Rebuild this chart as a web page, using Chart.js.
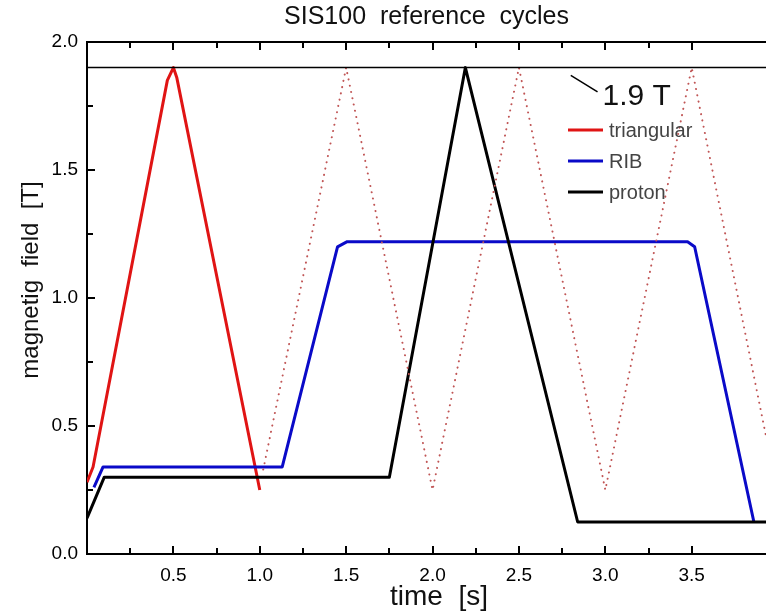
<!DOCTYPE html>
<html>
<head>
<meta charset="utf-8">
<script src="https://cdn.jsdelivr.net/npm/chart.js@4/dist/chart.umd.min.js"></script>
<style>
  html, body { margin: 0; padding: 0; background: #fff; }
</style>
</head>
<body>
<canvas id="chart" width="766" height="611"></canvas>
<script>
// triangular cycle (solid part, first period)
const triTime  = [0, 0.035, 0.465, 0.5, 0.52, 1.0];
const triField = [0.28, 0.34, 1.85, 1.9, 1.86, 0.25];

// triangular cycle continued (dotted)
const triRepTime  = [1.02, 1.5, 2.0, 2.5, 3.0, 3.5, 3.93];
const triRepField = [0.33, 1.9, 0.25, 1.9, 0.25, 1.9, 0.46];

// RIB cycle
const ribTime  = [0.04, 0.093, 1.13, 1.45, 1.506, 3.476, 3.517, 3.86];
const ribField = [0.26, 0.34, 0.34, 1.2, 1.22, 1.22, 1.2, 0.125];

// proton cycle
const protonTime  = [0, 0.1, 1.75, 2.19, 2.84, 3.93];
const protonField = [0.14, 0.30, 0.30, 1.9, 0.125, 0.125];

// 1.9 T limit
const limitTime  = [0, 3.93];
const limitField = [1.9, 1.9];

const legendOrder = ['triangular', 'RIB', 'proton'];

const FONT = "'Liberation Sans', Arial, sans-serif";
const MAX_T = 3.93;

const pts = (xs, ys) => xs.map((x, i) => ({x, y: ys[i]}));

function isQuarter(v) {
    return Math.abs(v / 0.25 - Math.round(v / 0.25)) < 1e-6;
}

function isHalf(v) {
    return Math.abs(v / 0.5 - Math.round(v / 0.5)) < 1e-6;
}

// frame on top + inward tick marks on left, bottom and top
const frameTicks = {
    id: 'frameTicks',
    afterDraw(chart) {
        const {ctx, chartArea: a, scales: {x, y}} = chart;
        ctx.save();
        ctx.strokeStyle = '#000';
        ctx.lineWidth = 2;
        ctx.beginPath();
        ctx.moveTo(a.left, a.top);
        ctx.lineTo(a.right, a.top);
        x.ticks.forEach((t) => {
            if (t.value <= 0 || !isQuarter(t.value)) return;
            const px = Math.round(x.getPixelForValue(t.value));
            const len = isHalf(t.value) ? 8 : 6;
            ctx.moveTo(px, a.bottom);
            ctx.lineTo(px, a.bottom - len);
            ctx.moveTo(px, a.top);
            ctx.lineTo(px, a.top + len);
        });
        y.ticks.forEach((t) => {
            if (t.value <= 0 || t.value >= 2 || !isQuarter(t.value)) return;
            const py = Math.round(y.getPixelForValue(t.value));
            const len = isHalf(t.value) ? 8 : 6;
            ctx.moveTo(a.left, py);
            ctx.lineTo(a.left + len, py);
        });
        ctx.stroke();
        ctx.restore();
    },
};

// axis titles, legend and the "1.9 T" note
const notes = {
    id: 'notes',
    afterDraw(chart) {
        const {ctx, scales: {x, y}} = chart;
        ctx.save();
        ctx.fillStyle = '#111';
        ctx.textBaseline = 'middle';
        ctx.textAlign = 'center';

        ctx.font = `28px ${FONT}`;
        ctx.fillText('time  [s]', 439, 597);

        ctx.save();
        ctx.translate(31, 280);
        ctx.rotate(-Math.PI / 2);
        ctx.font = `24px ${FONT}`;
        ctx.fillText('magnetig  field  [T]', 0, 0);
        ctx.restore();

        // 1.9 T pointer
        const x0 = x.getPixelForValue(2.8), y0 = y.getPixelForValue(1.87);
        const x1 = x.getPixelForValue(2.955), y1 = y.getPixelForValue(1.805);
        ctx.strokeStyle = '#000';
        ctx.lineWidth = 1.5;
        ctx.beginPath();
        ctx.moveTo(x0, y0);
        ctx.lineTo(x1, y1);
        ctx.stroke();
        ctx.textAlign = 'left';
        ctx.font = `30px ${FONT}`;
        ctx.fillText('1.9 T', x1 + 5, y1 + 5);

        // legend
        ctx.font = `20px ${FONT}`;
        legendOrder.forEach((name, i) => {
            const d = chart.data.datasets.find((ds) => ds.label === name);
            const ly = 130 + i * 31;
            ctx.strokeStyle = d.borderColor;
            ctx.lineWidth = 3;
            ctx.beginPath();
            ctx.moveTo(568, ly);
            ctx.lineTo(603, ly);
            ctx.stroke();
            ctx.fillStyle = '#444';
            ctx.fillText(d.label, 609, ly + 1);
        });
        ctx.restore();
    },
};

const lineDefaults = {
    showLine: true,
    pointRadius: 0,
    fill: false,
    tension: 0,
    borderJoinStyle: 'round',
};

new Chart(document.getElementById('chart'), {
    type: 'scatter',
    data: {
        datasets: [
            {...lineDefaults, label: '1.9 T', data: pts(limitTime, limitField),
                borderColor: '#000', borderWidth: 1.5},
            {...lineDefaults, label: 'triangular (repeat)', data: pts(triRepTime, triRepField),
                borderColor: 'rgb(192,85,85)', borderWidth: 2, borderDash: [0.1, 6.3], borderCapStyle: 'round'},
            {...lineDefaults, label: 'proton', data: pts(protonTime, protonField),
                borderColor: '#000', borderWidth: 3},
            {...lineDefaults, label: 'RIB', data: pts(ribTime, ribField),
                borderColor: '#0a0ac8', borderWidth: 3},
            {...lineDefaults, label: 'triangular', data: pts(triTime, triField),
                borderColor: '#e01414', borderWidth: 3},
        ],
    },
    options: {
        responsive: false,
        animation: false,
        layout: { padding: 0 },
        plugins: {
            legend: { display: false },
            tooltip: { enabled: false },
            title: {
                display: true,
                fullSize: false,
                text: 'SIS100  reference  cycles',
                color: '#111',
                font: { family: FONT, size: 25, weight: 'normal', lineHeight: 1.2 },
                padding: { top: 2, bottom: 10 },
            },
        },
        scales: {
            x: {
                type: 'linear',
                min: 0,
                max: MAX_T,
                grid: { display: false, drawTicks: false },
                border: { display: true, color: '#000', width: 2 },
                ticks: {
                    stepSize: 0.25,
                    autoSkip: false,
                    maxRotation: 0,
                    padding: 10,
                    color: '#000',
                    font: { family: FONT, size: 19 },
                    callback: (v) => (v > 0 && isHalf(v) ? v.toFixed(1) : ''),
                },
                afterFit: (scale) => {
                    scale.height = 57;
                    scale.paddingLeft = 0;
                    scale.paddingRight = 0;
                },
            },
            y: {
                min: 0,
                max: 2,
                grid: { display: false, drawTicks: false },
                border: { display: true, color: '#000', width: 2 },
                ticks: {
                    stepSize: 0.25,
                    autoSkip: false,
                    padding: 9,
                    color: '#000',
                    font: { family: FONT, size: 19 },
                    callback: (v) => (isHalf(v) ? v.toFixed(1) : ''),
                },
                afterFit: (scale) => { scale.width = 87; },
            },
        },
    },
    plugins: [frameTicks, notes],
});
</script>
</body>
</html>
